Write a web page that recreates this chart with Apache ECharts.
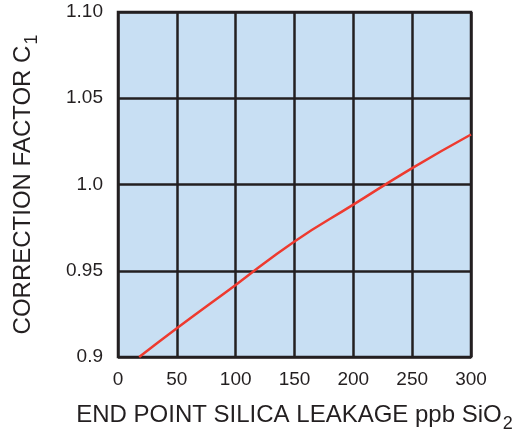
<!DOCTYPE html>
<html><head><meta charset="utf-8">
<script src="https://cdn.jsdelivr.net/npm/echarts@6/dist/echarts.min.js"></script>
<style>html,body{margin:0;padding:0;background:#fff}#c{width:514px;height:436px}</style>
</head><body><div id="c"></div>
<script>
const silicaLeakage = [18, 50, 100, 150, 200, 250, 300];
const correctionFactor = [0.900, 0.9167, 0.9418, 0.9670, 0.9883, 1.0095, 1.0290];
const yTickLabels = {"0.9":"0.9","0.95":"0.95","1":"1.0","1.05":"1.05","1.1":"1.10"};

const chart = echarts.init(document.getElementById('c'));
const font = 'Liberation Sans, Arial, sans-serif';
const ink = '#231f20';
const nameRich = {
  a:{fontSize:24,fontFamily:font,color:ink,verticalAlign:'bottom',lineHeight:26},
  s:{fontSize:18,fontFamily:font,color:ink,verticalAlign:'bottom',lineHeight:26,padding:[0,0,-6,1]}
};
chart.setOption({
  animation:false,
  grid:{left:118,right:43,top:12,bottom:79,containLabel:false,outerBoundsMode:'none',
    show:true,backgroundColor:'#c8dff3',borderColor:ink,borderWidth:2.5},
  xAxis:{type:'value',min:0,max:300,interval:50,
    axisLine:{show:false},axisTick:{show:false},
    splitLine:{show:true,lineStyle:{color:ink,width:2.5}},
    axisLabel:{color:ink,fontSize:19,fontFamily:font,margin:13},
    name:'{a|END POINT SILICA LEAKAGE ppb SiO}{s|2}',nameLocation:'middle',nameGap:44,
    nameTextStyle:{rich:nameRich}
  },
  yAxis:{type:'value',min:0.9,max:1.1,interval:0.05,
    axisLine:{show:false},axisTick:{show:false},
    splitLine:{show:true,lineStyle:{color:ink,width:2.5}},
    axisLabel:{color:ink,fontSize:19,fontFamily:font,margin:15,
      formatter:v=>yTickLabels[String(+v.toFixed(2))]||''},
    name:'{a|CORRECTION FACTOR C}{s|1}',nameLocation:'middle',nameGap:83,
    nameTextStyle:{rich:nameRich}
  },
  series:[{type:'line',data:silicaLeakage.map((x,i)=>[x,correctionFactor[i]]),smooth:true,showSymbol:false,
    lineStyle:{color:'#ee3a2f',width:2.5},z:5}]
});
</script></body></html>
